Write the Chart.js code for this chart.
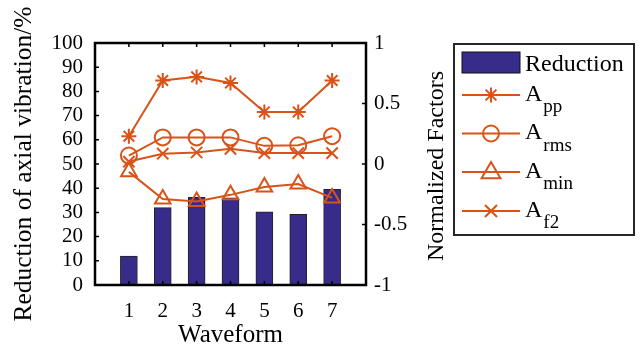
<!DOCTYPE html>
<html><head><meta charset="utf-8">
<script src="https://cdn.jsdelivr.net/npm/chart.js@4.4.1/dist/chart.umd.min.js"></script>
<style>html,body{margin:0;padding:0;background:#fff;overflow:hidden}canvas{display:block}</style>
</head><body>
<canvas id="c" width="643" height="359"></canvas>
<script>
// ---- data ----
const waveforms = [1, 2, 3, 4, 5, 6, 7];
const reduction = [12, 32, 36.2, 36, 30.2, 29.2, 39.5];
const App  = [0.23, 0.69, 0.72, 0.67, 0.43, 0.43, 0.69];
const Arms = [0.07, 0.22, 0.22, 0.22, 0.15, 0.155, 0.23];
const Amin = [-0.065, -0.29, -0.31, -0.255, -0.19, -0.165, -0.28];
const Af2  = [0.02, 0.085, 0.095, 0.125, 0.09, 0.09, 0.09];
const leftTicks  = [0, 10, 20, 30, 40, 50, 60, 70, 80, 90, 100];
const rightTicks = [-1, -0.5, 0, 0.5, 1];
const rightTickLabels = ['-1', '-0.5', '0', '0.5', '1'];
const legendMain = ['Reduction', 'A', 'A', 'A', 'A'];
const legendSub  = ['', 'pp', 'rms', 'min', 'f2'];

const FONT = "'Liberation Serif', 'Times New Roman', serif";
const BAR = '#372c8a';
const ORANGE = '#d95319';

function pts(arr){ return waveforms.map((w,i)=>({x:w, y:arr[i]})); }

function drawMarker(ctx, style, x, y, r){
  ctx.beginPath();
  if (style === 'circle'){ ctx.arc(x, y, r, 0, Math.PI*2); ctx.stroke(); return; }
  if (style === 'triangle'){
    ctx.moveTo(x, y - r*1.1); ctx.lineTo(x + r*1.05, y + r*0.7); ctx.lineTo(x - r*1.05, y + r*0.7); ctx.closePath(); ctx.stroke(); return;
  }
  if (style === 'crossRot'){
    const d = r*0.75;
    ctx.moveTo(x-d,y-d); ctx.lineTo(x+d,y+d); ctx.moveTo(x+d,y-d); ctx.lineTo(x-d,y+d); ctx.stroke(); return;
  }
  if (style === 'star'){
    const d = r*0.72;
    ctx.moveTo(x-r,y); ctx.lineTo(x+r,y); ctx.moveTo(x,y-r); ctx.lineTo(x,y+r);
    ctx.moveTo(x-d,y-d); ctx.lineTo(x+d,y+d); ctx.moveTo(x+d,y-d); ctx.lineTo(x-d,y+d); ctx.stroke(); return;
  }
}

const framePlugin = {
  id: 'frame',
  afterDraw(chart){
    const {ctx, chartArea: a, scales} = chart;
    ctx.save();
    ctx.strokeStyle = '#000';
    ctx.lineWidth = 1.5;
    const tl = 4;
    ctx.beginPath();
    leftTicks.forEach(v=>{ const y = scales.y.getPixelForValue(v); ctx.moveTo(a.left, y); ctx.lineTo(a.left+tl, y); });
    rightTicks.forEach(v=>{ const y = scales.y1.getPixelForValue(v); ctx.moveTo(a.right, y); ctx.lineTo(a.right-tl, y); });
    waveforms.forEach(v=>{ const x = scales.x.getPixelForValue(v); ctx.moveTo(x, a.top); ctx.lineTo(x, a.top+tl); ctx.moveTo(x, a.bottom); ctx.lineTo(x, a.bottom-tl); });
    ctx.stroke();
    ctx.lineWidth = 2.5;
    ctx.strokeRect(a.left, a.top, a.right-a.left, a.bottom-a.top);

    // right axis title (reads bottom to top)
    ctx.fillStyle = '#000';
    ctx.font = '24px ' + FONT;
    ctx.textAlign = 'center';
    ctx.textBaseline = 'alphabetic';
    ctx.translate(443, (a.top+a.bottom)/2 + 2);
    ctx.rotate(-Math.PI/2);
    ctx.fillText('Normalized Factors', 0, 0);
    ctx.restore();

    // legend
    ctx.save();
    const L = {x:454, y:44, w:180, h:191};
    ctx.fillStyle = '#fff';
    ctx.fillRect(L.x, L.y, L.w, L.h);
    ctx.strokeStyle = '#262626';
    ctx.lineWidth = 2;
    ctx.strokeRect(L.x, L.y, L.w, L.h);
    const rowsY = [62.5, 95, 133.5, 172, 211];
    const x0 = 462, x1 = 520, xm = 491, tx = 525;
    const ds = chart.data.datasets;
    ctx.fillStyle = BAR; ctx.fillRect(x0, rowsY[0]-10.5, x1-x0, 21);
    ctx.strokeStyle = '#111'; ctx.lineWidth = 1; ctx.strokeRect(x0, rowsY[0]-10.5, x1-x0, 21);
    ctx.fillStyle = '#000'; ctx.font = '24px ' + FONT; ctx.textAlign = 'left'; ctx.textBaseline = 'alphabetic';
    ctx.fillText(legendMain[0], tx, rowsY[0]+8);
    for (let i=1;i<5;i++){
      const y = rowsY[i];
      const d = ds[i];
      ctx.strokeStyle = d.borderColor; ctx.lineWidth = 2;
      ctx.beginPath(); ctx.moveTo(x0, y); ctx.lineTo(x1, y); ctx.stroke();
      drawMarker(ctx, d.pointStyle, xm, y, d.pointRadius);
      ctx.fillStyle = '#000';
      ctx.font = '24px ' + FONT;
      ctx.fillText(legendMain[i], tx, y+5.5);
      const w = ctx.measureText(legendMain[i]).width;
      ctx.font = '19px ' + FONT;
      ctx.fillText(legendSub[i], tx + w + 1, y + 17);
    }
    ctx.restore();
  }
};

const tickFont = {family: FONT, size: 21};
const lineDs = (label, data, style, r) => ({
  type: 'line', label, data: pts(data), yAxisID: 'y1',
  borderColor: ORANGE, borderWidth: 2, tension: 0,
  pointStyle: style, pointRadius: r, pointBorderWidth: 2,
  pointBorderColor: ORANGE, pointBackgroundColor: 'rgba(0,0,0,0)', order: 1
});

new Chart(document.getElementById('c'), {
  type: 'bar',
  data: {
    datasets: [
      { type: 'bar', label: 'Reduction', data: pts(reduction), yAxisID: 'y',
        backgroundColor: BAR, borderColor: '#222', borderWidth: 1, barThickness: 17, order: 10 },
      lineDs('App', App, 'star', 7.5),
      lineDs('Arms', Arms, 'circle', 8),
      lineDs('Amin', Amin, 'triangle', 9),
      lineDs('Af2', Af2, 'crossRot', 8)
    ]
  },
  options: {
    responsive: false, animation: false, devicePixelRatio: 1,
    layout: {padding: {left: 0, top: 43, right: 187, bottom: 0}},
    plugins: {legend: {display: false}, tooltip: {enabled: false}},
    scales: {
      x: {
        type: 'linear', min: 0, max: 8, offset: false,
        afterBuildTicks: s => { s.ticks = waveforms.map(v => ({value: v})); },
        afterFit: s => { s.height = 74; },
        grid: {display: false, drawTicks: false}, border: {display: false},
        ticks: {font: tickFont, color: '#000', padding: 14, autoSkip: false, maxRotation: 0},
        title: {display: true, text: 'Waveform', color: '#000', font: {family: FONT, size: 25}, padding: {top: 0, bottom: 9}}
      },
      y: {
        position: 'left', min: 0, max: 100,
        afterBuildTicks: s => { s.ticks = leftTicks.map(v => ({value: v})); },
        afterFit: s => { s.width = 95; },
        grid: {display: false, drawTicks: false}, border: {display: false},
        ticks: {font: tickFont, color: '#000', padding: 12, autoSkip: false},
        title: {display: true, text: 'Reduction of axial vibration/%', color: '#000', font: {family: FONT, size: 25.5}, padding: {top: 9, bottom: 0}}
      },
      y1: {
        position: 'right', min: -1, max: 1,
        afterBuildTicks: s => { s.ticks = rightTicks.map(v => ({value: v})); },
        afterFit: s => { s.width = 90; },
        grid: {display: false, drawTicks: false}, border: {display: false},
        ticks: {font: tickFont, color: '#000', padding: 8, autoSkip: false, callback: (v, i) => rightTickLabels[i]}
      }
    }
  },
  plugins: [framePlugin]
});
</script>
</body></html>
